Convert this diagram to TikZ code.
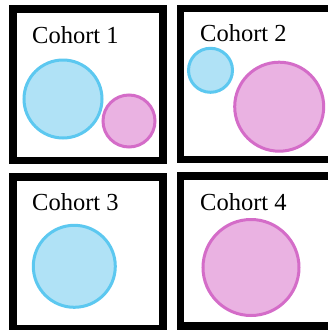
\documentclass[tikz,border=0pt]{standalone}
\usepackage{fontspec}
\setmainfont{Liberation Serif}
\definecolor{bluefill}{RGB}{176,226,246}
\definecolor{bluedraw}{RGB}{92,200,240}
\definecolor{pinkfill}{RGB}{234,178,226}
\definecolor{pinkdraw}{RGB}{212,108,200}
\tikzset{
  frame/.style={draw=black,line width=7.5pt,line join=miter},
  bluec/.style={circle,draw=bluedraw,fill=bluefill,line width=3pt,inner sep=0pt},
  pinkc/.style={circle,draw=pinkdraw,fill=pinkfill,line width=3pt,inner sep=0pt},
  lbl/.style={anchor=base west,inner sep=0pt,font=\fontsize{24.5}{28}\selectfont}
}
\begin{document}
\begin{tikzpicture}[x=1pt,y=-1pt]
\useasboundingbox (0,0) rectangle (328,330);
\fill[white] (0,0) rectangle (328,330);
% frames
\draw[frame] (13,9) rectangle (163,160.5);
\draw[frame] (180.5,8.5) rectangle (345,159.5);
\draw[frame] (13,177) rectangle (163,329);
\draw[frame] (180.5,176) rectangle (345,326);
% labels
\node[lbl] (t1) at (32,43) {Cohort 1};
\node[lbl] (t2) at (200,41) {Cohort 2};
\node[lbl] (t3) at (32,210) {Cohort 3};
\node[lbl] (t4) at (200,210) {Cohort 4};
% circles
\node[bluec,minimum size=78pt] (b1) at (63,99) {};
\node[pinkc,minimum size=52pt] (p1) at (129,121) {};
\node[bluec,minimum size=44pt] (b2) at (210.5,70.3) {};
\node[pinkc,minimum size=89pt] (p2) at (279.2,106.7) {};
\node[bluec,minimum size=82pt] (b3) at (74.3,266.3) {};
\node[pinkc,minimum size=96pt] (p4) at (251,267.5) {};
\end{tikzpicture}
\end{document}
